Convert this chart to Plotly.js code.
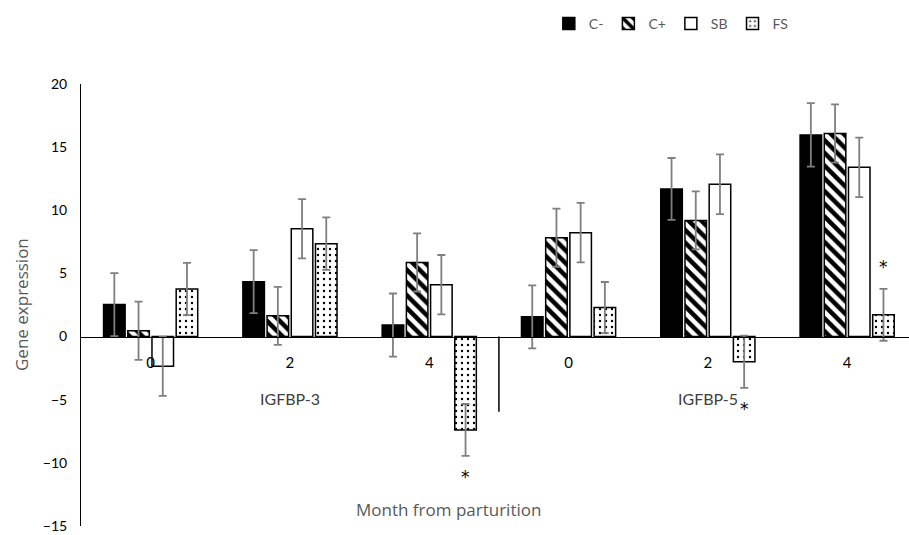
<!DOCTYPE html>
<html>
<head>
<meta charset="utf-8">
<script src="https://cdn.plot.ly/plotly-3.0.1.min.js"></script>
<style>html,body{margin:0;padding:0;background:#fff;}#chart{width:909px;height:535px;}</style>
</head>
<body>
<div id="chart"></div>
<script>
// ---- data ----
const genes  = ['IGFBP-3','IGFBP-3','IGFBP-3','IGFBP-5','IGFBP-5','IGFBP-5'];
const months = ['0','2','4','0','2','4'];
const seriesNames = ['C-','C+','SB','FS'];
const cMinus    = [2.53, 4.35, 0.91, 1.56, 11.69, 15.97];
const cMinusErr = [2.50, 2.50, 2.50, 2.50, 2.45, 2.52];
const cPlus     = [0.46, 1.64, 5.87, 7.83, 9.20, 16.08];
const cPlusErr  = [2.30, 2.30, 2.30, 2.30, 2.30, 2.30];
const sb        = [-2.35, 8.54, 4.11, 8.23, 12.06, 13.40];
const sbErr     = [2.35, 2.35, 2.35, 2.35, 2.36, 2.35];
const fs        = [3.77, 7.36, -7.39, 2.30, -2.00, 1.72];
const fsErr     = [2.07, 2.08, 2.05, 2.02, 2.07, 2.05];
const fsSig     = ['', '', '*', '', '*', '*'];
const yTickVals = [-15, -10, -5, 0, 5, 10, 15, 20];

// ---- build ----
const xIdx = months.map((m, i) => i);
const FONT = 'Lato, "Open Sans", sans-serif';
const TFONT = '"Open Sans", Lato, sans-serif';
const GREY = '#595959';
const errStyle = arr => ({type:'data', array:arr, visible:true, color:'#7f7f7f', thickness:1.8, width:4});
const outline = {color:'#000', width:1.5};

const traces = [
  {type:'bar', name:seriesNames[0], x:xIdx, y:cMinus, error_y:errStyle(cMinusErr),
   marker:{color:'#000', line:outline}},
  {type:'bar', name:seriesNames[1], x:xIdx, y:cPlus, error_y:errStyle(cPlusErr),
   marker:{color:'#fff', line:outline, pattern:{shape:'\\', fgcolor:'#000', bgcolor:'#fff', size:9, solidity:0.5}}},
  {type:'bar', name:seriesNames[2], x:xIdx, y:sb, error_y:errStyle(sbErr),
   marker:{color:'#fff', line:outline}},
  {type:'bar', name:seriesNames[3], x:xIdx, y:fs, error_y:errStyle(fsErr),
   marker:{color:'#fff', line:outline, pattern:{shape:'.', fgcolor:'#000', bgcolor:'#fff', size:6, solidity:0.12}}}
];

// plot area geometry (pixels)
const T = 84, B = 9, H = 535 - T - B;

// significance asterisks above/below the FS error bar ends
const fsOffset = 1.5 * (1 - 0.305) / 4; // FS slot offset within group
const annotations = [];
fsSig.forEach((s, i) => {
  if (!s) return;
  const neg = fs[i] < 0;
  annotations.push({x: i + fsOffset, y: neg ? fs[i] - fsErr[i] : fs[i] + fsErr[i],
    xref:'x', yref:'y', text:s, showarrow:false, yanchor:'middle', yshift: neg ? -21 : 22,
    font:{family:'"DejaVu Sans", sans-serif', size:17, color:'#000'}});
});
// gene group labels
[...new Set(genes)].forEach(g => {
  const idx = genes.map((v,i)=>v===g?i:-1).filter(i=>i>=0);
  const mid = (idx[0] + idx[idx.length-1]) / 2;
  annotations.push({x: mid, y: 0, xref:'x', yref:'y', yanchor:'middle', yshift:-62, text:g, showarrow:false,
    font:{family:FONT, size:16, color:'#404040'}});
});
// axis titles
annotations.push({x:(448-81)/828, y:(535-B-509)/H, xref:'paper', yref:'paper', xanchor:'center', yanchor:'middle',
  text:'Month from parturition', showarrow:false, font:{family:TFONT, size:17, color:GREY}});
annotations.push({x:(21-81)/828, y:(535-B-305)/H, xref:'paper', yref:'paper', xanchor:'center', yanchor:'middle',
  text:'Gene expression', textangle:-90, showarrow:false, font:{family:TFONT, size:17, color:GREY}});

const layout = {
  width:909, height:535,
  margin:{l:81, r:0, t:T, b:B},
  paper_bgcolor:'#fff', plot_bgcolor:'#fff',
  font:{family:FONT, color:'#000'},
  barmode:'group', bargap:0.305, bargroupgap:0.11,
  showlegend:true,
  legend:{orientation:'h', x:0.565, y:1 + (T - 8) / H, xanchor:'left', yanchor:'top',
    font:{family:FONT, size:14, color:GREY}, itemwidth:30, bgcolor:'rgba(0,0,0,0)'},
  xaxis:{type:'linear', range:[-0.5, 5.444], anchor:'free', position:15/35,
    showline:true, linecolor:'#000', linewidth:1.5, ticks:'', showgrid:false, zeroline:false,
    tickmode:'array', tickvals:xIdx, ticktext:months, ticklabelstandoff:12,
    tickfont:{family:FONT, size:15, color:'#000'}},
  yaxis:{range:[-15, 20], tickmode:'array', tickvals:yTickVals, showgrid:false, zeroline:false,
    showline:true, linecolor:'#000', linewidth:1, ticks:'', ticklabelstandoff:10, ticklabeloverflow:'allow',
    tickfont:{family:FONT, size:14, color:'#000'}},
  shapes:[{type:'line', xref:'x', yref:'y', x0:2.5, x1:2.5, y0:0, y1:-5.95, line:{color:'#000', width:1.5}}],
  annotations: annotations
};

Plotly.newPlot('chart', traces, layout, {displayModeBar:false, staticPlot:true});
</script>
</body>
</html>
